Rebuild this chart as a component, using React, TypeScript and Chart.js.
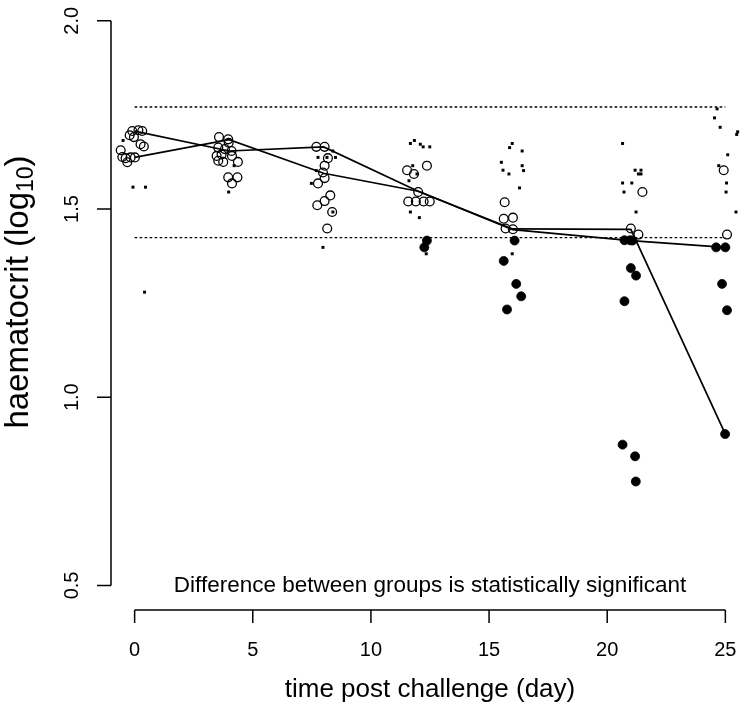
import React, { useEffect, useRef } from "react";
import { Chart, registerables } from "chart.js";

Chart.register(...registerables);

const WIDTH = 745;
const HEIGHT = 717;
const FONT = '"Liberation Sans", Arial, Helvetica, sans-serif';

// axis ticks
const dayTicks = [0, 5, 10, 15, 20, 25];
const valueTicks = [0.5, 1.0, 1.5, 2.0];
const valueTickLabels = ["0.5", "1.0", "1.5", "2.0"];

// texts
const xTitle = "time post challenge (day)";
const yTitleMain = "haematocrit (log";
const yTitleSub = "10";
const yTitleEnd = ")";
const noteText = "Difference between groups is statistically significant";

// reference (dotted) levels
const refLevels = [1.771, 1.424];
const refDays = [0, 25];

// group mean lines
const meanDays = [0, 4, 8, 12, 16, 21, 25];
const meanA = [1.707, 1.654, 1.665, 1.547, 1.447, 1.446, 0.902];
const meanB = [1.637, 1.684, 1.595, 1.547, 1.445, 1.416, 1.398];

// open circles (jittered day, log10 haematocrit)
const openDays = [
  -0.1, 0.16, 0.32, -0.21, -0.03, 0.25, 0.39, -0.59, -0.52, -0.38, -0.17, 0.01, -0.31,
  3.57, 3.96, 3.98, 3.54, 3.82, 4.1, 3.47, 3.68, 4.12, 3.54, 3.75, 4.37, 3.96, 4.35, 4.12,
  7.69, 8.04, 8.04, 7.97, 8.04, 7.76, 8.28, 8.04, 7.73, 8.36, 8.15, 8.18,
  12.37, 11.53, 11.82, 12.0, 11.58, 11.9, 12.23, 12.49,
  15.66, 15.62, 16.01, 15.7, 16.01,
  21.49, 21.0, 21.32,
  24.93, 25.07,
];
const openVals = [
  1.707, 1.709, 1.707, 1.696, 1.691, 1.672, 1.666, 1.656, 1.638, 1.635, 1.637, 1.637, 1.624,
  1.691, 1.685, 1.676, 1.663, 1.659, 1.654, 1.641, 1.645, 1.641, 1.628, 1.625, 1.625, 1.584, 1.584, 1.568,
  1.665, 1.665, 1.615, 1.597, 1.582, 1.568, 1.536, 1.521, 1.51, 1.492, 1.448, 1.635,
  1.615, 1.603, 1.593, 1.545, 1.52, 1.52, 1.52, 1.52,
  1.518, 1.474, 1.477, 1.448, 1.446,
  1.545, 1.448, 1.432,
  1.603, 1.432,
];

// filled circles
const filledDays = [
  12.37, 12.26,
  16.08, 15.62, 16.15, 16.36, 15.76,
  20.73, 20.97, 21.07, 21.0, 21.22, 20.73, 20.65, 21.18, 21.21,
  24.61, 25.0, 24.86, 25.07, 24.99,
];
const filledVals = [
  1.416, 1.398,
  1.416, 1.362, 1.301, 1.268, 1.233,
  1.417, 1.417, 1.416, 1.343, 1.323, 1.255, 0.874, 0.843, 0.776,
  1.398, 1.398, 1.301, 1.231, 0.902,
];

// small squares
const squareDays = [
  -0.49, -0.07, 0.46, 0.42,
  4.21, 3.98,
  7.76, 8.14, 8.5, 8.39, 7.69, 7.48, 8.39, 7.97,
  11.84, 11.67, 12.09, 12.21, 12.49, 11.77, 11.95, 11.61, 11.67, 12.05, 12.34,
  15.98, 15.87, 16.4, 15.52, 15.59, 16.4, 16.46, 15.84, 16.29, 15.98,
  20.65, 21.18, 21.43, 21.32, 21.43, 20.65, 21.04, 20.71, 21.22,
  24.65, 24.54, 24.78, 25.52, 25.48, 25.1, 24.72, 25.05, 25.03, 25.45,
];
const squareVals = [
  1.682, 1.558, 1.558, 1.279,
  1.615, 1.545,
  1.637, 1.637, 1.637, 1.654, 1.602, 1.568, 1.492, 1.398,
  1.682, 1.674, 1.672, 1.665, 1.665, 1.615, 1.593, 1.575, 1.492, 1.477, 1.381,
  1.674, 1.663, 1.654, 1.624, 1.603, 1.615, 1.602, 1.593, 1.556, 1.381,
  1.674, 1.603, 1.603, 1.593, 1.593, 1.569, 1.569, 1.545, 1.492,
  1.766, 1.742, 1.717, 1.705, 1.698, 1.644, 1.615, 1.569, 1.545, 1.492,
];

const pts = (xs: number[], ys: number[]) => xs.map((x, i) => ({ x, y: ys[i] }));

const rAxesPlugin = {
  id: "rAxes",
  afterDraw(chart: any) {
    const { ctx, chartArea } = chart;
    const xs = chart.scales.x;
    const ys = chart.scales.y;
    ctx.save();
    ctx.strokeStyle = "#000";
    ctx.fillStyle = "#000";
    ctx.lineWidth = 1.5;

    // y axis
    const ax = chartArea.left;
    const yTop = ys.getPixelForValue(valueTicks[valueTicks.length - 1]);
    const yBot = ys.getPixelForValue(valueTicks[0]);
    ctx.beginPath();
    ctx.moveTo(ax, yTop);
    ctx.lineTo(ax, yBot);
    valueTicks.forEach((v) => {
      const py = ys.getPixelForValue(v);
      ctx.moveTo(ax, py);
      ctx.lineTo(ax - 14, py);
    });
    ctx.stroke();

    ctx.font = `20px ${FONT}`;
    ctx.textAlign = "center";
    ctx.textBaseline = "middle";
    valueTicks.forEach((v, i) => {
      const py = ys.getPixelForValue(v);
      ctx.save();
      ctx.translate(ax - 39, py);
      ctx.rotate(-Math.PI / 2);
      ctx.fillText(valueTickLabels[i], 0, 0);
      ctx.restore();
    });

    // x axis
    const ay = chartArea.bottom + 2;
    const xL = xs.getPixelForValue(dayTicks[0]);
    const xR = xs.getPixelForValue(dayTicks[dayTicks.length - 1]);
    ctx.beginPath();
    ctx.moveTo(xL, ay);
    ctx.lineTo(xR, ay);
    dayTicks.forEach((d) => {
      const px = xs.getPixelForValue(d);
      ctx.moveTo(px, ay);
      ctx.lineTo(px, ay + 13);
    });
    ctx.stroke();
    dayTicks.forEach((d) => {
      const px = xs.getPixelForValue(d);
      ctx.fillText(String(d), px, ay + 40);
    });

    // x title
    const cx = (xL + xR) / 2;
    ctx.font = `26px ${FONT}`;
    ctx.fillText(xTitle, cx, ay + 80);

    // y title with subscript
    const cy = 292;
    ctx.save();
    ctx.translate(19, cy);
    ctx.rotate(-Math.PI / 2);
    ctx.textAlign = "left";
    ctx.font = `33px ${FONT}`;
    const w1 = ctx.measureText(yTitleMain).width;
    const w3 = ctx.measureText(yTitleEnd).width;
    ctx.font = `23px ${FONT}`;
    const w2 = ctx.measureText(yTitleSub).width;
    const total = w1 + w2 + w3;
    let sx = -total / 2;
    ctx.font = `33px ${FONT}`;
    ctx.fillText(yTitleMain, sx, 0);
    sx += w1;
    ctx.font = `23px ${FONT}`;
    ctx.fillText(yTitleSub, sx, 8);
    sx += w2;
    ctx.font = `33px ${FONT}`;
    ctx.fillText(yTitleEnd, sx, 0);
    ctx.restore();

    // annotation
    ctx.font = `22.5px ${FONT}`;
    ctx.textAlign = "center";
    ctx.fillText(noteText, cx, ys.getPixelForValue(0.5));

    ctx.restore();
  },
};

export default function App() {
  const ref = useRef<HTMLCanvasElement | null>(null);

  useEffect(() => {
    if (!ref.current) return;
    const refSets = refLevels.map((lv) => ({
      type: "line" as const,
      data: refDays.map((d) => ({ x: d, y: lv })),
      borderColor: "#000",
      borderWidth: 1.4,
      borderDash: [2.6, 2.4],
      pointRadius: 0,
      showLine: true,
      fill: false,
      clip: false as any,
      order: 2,
    }));
    const chart = new Chart(ref.current, {
      type: "scatter",
      data: {
        datasets: [
          {
            type: "line",
            data: pts(meanDays, meanA),
            borderColor: "#000",
            borderWidth: 1.7,
            pointRadius: 0,
            showLine: true,
            fill: false,
            tension: 0,
            clip: false as any,
            order: 1,
          },
          {
            type: "line",
            data: pts(meanDays, meanB),
            borderColor: "#000",
            borderWidth: 1.7,
            pointRadius: 0,
            showLine: true,
            fill: false,
            tension: 0,
            clip: false as any,
            order: 1,
          },
          ...refSets,
          {
            data: pts(filledDays, filledVals),
            pointStyle: "circle",
            pointRadius: 4.5,
            pointBorderWidth: 0.8,
            pointBackgroundColor: "#000",
            pointBorderColor: "#000",
            clip: false as any,
            order: 3,
          },
          {
            data: pts(openDays, openVals),
            pointStyle: "circle",
            pointRadius: 4.4,
            pointBorderWidth: 1.3,
            pointBackgroundColor: "rgba(0,0,0,0)",
            pointBorderColor: "#000",
            clip: false as any,
            order: 4,
          },
          {
            data: pts(squareDays, squareVals),
            pointStyle: "rect",
            pointRadius: 2.1,
            pointBorderWidth: 0,
            pointBackgroundColor: "#000",
            pointBorderColor: "#000",
            clip: false as any,
            order: 5,
          },
        ] as any,
      },
      options: {
        animation: false,
        responsive: false,
        maintainAspectRatio: false,
        events: [],
        layout: { padding: { left: 111, top: 0, right: 0, bottom: 109 } },
        scales: {
          x: { type: "linear", min: -1, max: 25.59, display: false },
          y: { type: "linear", min: 0.44, max: 2.04, display: false },
        },
        plugins: {
          legend: { display: false },
          tooltip: { enabled: false },
          title: { display: false },
        },
      },
      plugins: [rAxesPlugin],
    });
    return () => chart.destroy();
  }, []);

  return (
    <div style={{ position: "absolute", left: 0, top: 0, width: WIDTH, height: HEIGHT, background: "#fff" }}>
      <canvas ref={ref} width={WIDTH} height={HEIGHT} style={{ width: WIDTH, height: HEIGHT, display: "block" }} />
    </div>
  );
}
